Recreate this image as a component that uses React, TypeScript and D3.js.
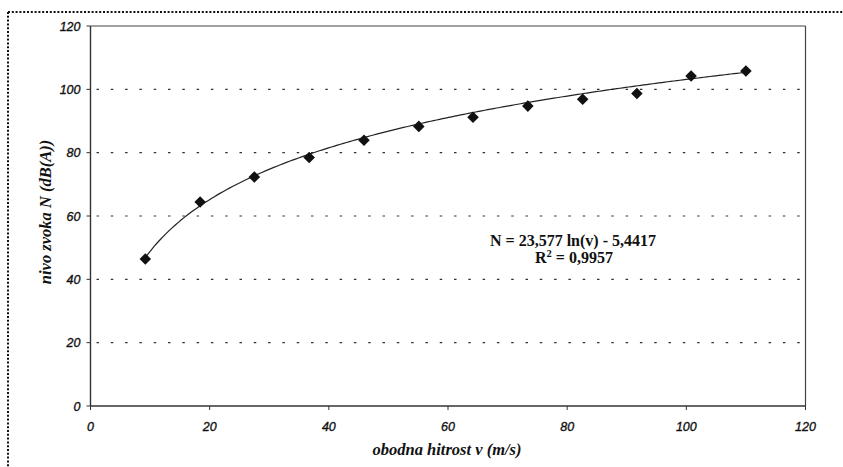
import React from "react";
import * as d3 from "d3";

const speeds = [9.2, 18.4, 27.5, 36.7, 45.9, 55.1, 64.2, 73.4, 82.6, 91.7, 100.8, 110.0];
const levels = [46.4, 64.4, 72.3, 78.5, 83.9, 88.3, 91.2, 94.7, 96.9, 98.7, 104.2, 105.8];
const xTicks = [0, 20, 40, 60, 80, 100, 120];
const yTicks = [0, 20, 40, 60, 80, 100, 120];
const gridValues = [20, 40, 60, 80, 100];
const trendA = 23.577;
const trendB = -5.4417;
const eqLine1 = "N = 23,577 ln(v) - 5,4417";
const xTitle = "obodna hitrost v (m/s)";
const yTitle = "nivo zvoka N (dB(A))";

export default function App() {
  const W = 843, H = 467;
  const x = d3.scaleLinear().domain([0, 120]).range([90.5, 805.5]);
  const y = d3.scaleLinear().domain([0, 120]).range([406, 26]);
  const x0 = x(0), x1 = x(120), y0 = y(0), y1 = y(120);

  const minV = d3.min(speeds)!, maxV = d3.max(speeds)!;
  const trendPts = d3.range(0, 201).map((i) => {
    const v = minV + ((maxV - minV) * i) / 200;
    return [v, trendA * Math.log(v) + trendB] as [number, number];
  });
  const line = d3.line<[number, number]>().x((d) => x(d[0])).y((d) => y(d[1]));
  const diamond = d3.symbol().type(d3.symbolDiamond2).size(85)()!;

  const tickFont = "'Liberation Sans', Arial, sans-serif";
  const serif = "'Liberation Serif', 'Times New Roman', serif";

  return (
    <svg width={W} height={H} style={{ position: "absolute", left: 0, top: 0, background: "#fff" }}>
      <rect x={0} y={0} width={W} height={H} fill="#fff" />
      {/* dotted outer border */}
      <line x1={8} y1={12} x2={W} y2={12} stroke="#111" strokeWidth={2} strokeDasharray="2 1.8" />
      <line x1={8} y1={12} x2={8} y2={H} stroke="#111" strokeWidth={2} strokeDasharray="2 1.8" />

      {/* grid */}
      {gridValues.map((g) => (
        <line key={g} x1={x0 + 6} x2={x1} y1={y(g)} y2={y(g)} stroke="#333" strokeWidth={1.2} strokeDasharray="2.5 11.8" />
      ))}

      {/* plot frame */}
      <line x1={x0} x2={x1} y1={y1} y2={y1} stroke="#444" strokeWidth={1.2} />
      <line x1={x1} x2={x1} y1={y1} y2={y0} stroke="#444" strokeWidth={1.2} />
      <line x1={x0} x2={x0} y1={y1} y2={y0} stroke="#333" strokeWidth={1.4} />
      <line x1={x0} x2={x1} y1={y0} y2={y0} stroke="#333" strokeWidth={1.4} />

      {/* y ticks */}
      {yTicks.map((t) => (
        <g key={"y" + t}>
          <line x1={x0 - 4} x2={x0} y1={y(t)} y2={y(t)} stroke="#333" />
          <text x={x0 - 10} y={y(t) + 4.5} textAnchor="end" fontFamily={tickFont} fontStyle="italic" fontSize={12.5} fill="#111" stroke="#111" strokeWidth={0.35}>
            {t}
          </text>
        </g>
      ))}

      {/* x ticks */}
      {xTicks.map((t) => (
        <g key={"x" + t}>
          <line x1={x(t)} x2={x(t)} y1={y0} y2={y0 + 4} stroke="#333" />
          <text x={x(t)} y={y0 + 25} textAnchor="middle" fontFamily={tickFont} fontStyle="italic" fontSize={12.5} fill="#111" stroke="#111" strokeWidth={0.35}>
            {t}
          </text>
        </g>
      ))}

      {/* trend line */}
      <path d={line(trendPts)!} fill="none" stroke="#222" strokeWidth={1.2} />

      {/* points */}
      {speeds.map((v, i) => (
        <path key={i} d={diamond} transform={`translate(${x(v)},${y(levels[i])})`} fill="#111" />
      ))}

      {/* equation */}
      <text x={573} y={246} textAnchor="middle" fontFamily={serif} fontWeight="bold" fontSize={16} fill="#111">
        {eqLine1}
      </text>
      <text x={574} y={263} textAnchor="middle" fontFamily={serif} fontWeight="bold" fontSize={16} fill="#111">
        R<tspan dy={-6} fontSize={10.5}>2</tspan>
        <tspan dy={6}> = 0,9957</tspan>
      </text>

      {/* axis titles */}
      <text x={447} y={455} textAnchor="middle" fontFamily={serif} fontWeight="bold" fontStyle="italic" fontSize={16.5} fill="#111">
        {xTitle}
      </text>
      <text
        transform={`translate(51,212) rotate(-90)`}
        textAnchor="middle"
        fontFamily={serif}
        fontWeight="bold"
        fontStyle="italic"
        fontSize={16.5}
        fill="#111"
      >
        {yTitle}
      </text>
    </svg>
  );
}
